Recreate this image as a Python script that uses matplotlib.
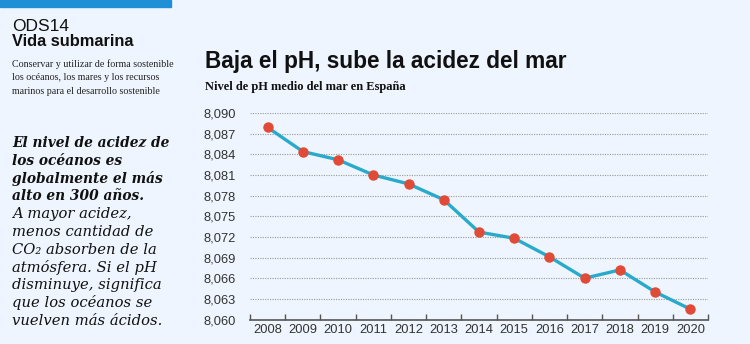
import matplotlib.pyplot as plt
import numpy as np

# data
years = ['2008', '2009', '2010', '2011', '2012', '2013', '2014',
         '2015', '2016', '2017', '2018', '2019', '2020']
ph = [8.0879, 8.0844, 8.0832, 8.0810, 8.0797, 8.0774, 8.0727,
      8.0718, 8.0691, 8.0660, 8.0672, 8.0640, 8.0615]
yticks = [8.060, 8.063, 8.066, 8.069, 8.072, 8.075, 8.078,
          8.081, 8.084, 8.087, 8.090]

BG = '#eef5fe'
SANS = ['Liberation Sans', 'DejaVu Sans']
SERIF = ['Liberation Serif', 'DejaVu Serif']
SLAB = ['DejaVu Serif']

W, H = 750, 344
fig = plt.figure(figsize=(W / 100, H / 100), dpi=100, facecolor=BG)


def px(x, y):
    # pixel coords (from top-left) -> figure fraction
    return x / W, 1 - y / H


# blue strip top-left
fig.patches.append(plt.Rectangle(px(0, 7), 171 / W, 7 / H,
                                 transform=fig.transFigure,
                                 color='#1f8fd6', zorder=0))

fig.text(*px(12, 31), 'ODS14', family=SANS, fontsize=12.5,
         color='#111111', va='baseline')
fig.text(*px(12, 46), 'Vida submarina', family=SANS, fontsize=11.8,
         weight='heavy', color='#111111', va='baseline')
intro = ['Conservar y utilizar de forma sostenible',
         'los océanos, los mares y los recursos',
         'marinos para el desarrollo sostenible']
for i, line in enumerate(intro):
    fig.text(*px(12, 67 + i * 13.5), line, family=SERIF, fontsize=7.2,
             color='#222222', va='baseline')

bold_lines = ['El nivel de acidez de', 'los océanos es',
              'globalmente el más', 'alto en 300 años.']
reg_lines = ['A mayor acidez,', 'menos cantidad de',
             'CO₂ absorben de la', 'atmósfera. Si el pH',
             'disminuye, significa', 'que los océanos se',
             'vuelven más ácidos.']
for i, line in enumerate(bold_lines + reg_lines):
    bold = i < len(bold_lines)
    fig.text(*px(12, 147 + i * 17.8), line, family=SLAB,
             fontsize=9.9 if bold else 10.6, style='italic',
             weight='bold' if bold else 'normal',
             color='#111111', va='baseline')

fig.text(*px(205, 68), 'Baja el pH, sube la acidez del mar', family=SANS,
         fontsize=16.3, weight='bold', color='#111111', va='baseline')
fig.text(*px(205, 90), 'Nivel de pH medio del mar en España', family=SERIF,
         fontsize=9, weight='bold', color='#111111', va='baseline')

# chart area
ax = fig.add_axes([250 / W, 1 - 319.5 / H, 458 / W, (319.5 - 113) / H])
ax.set_facecolor(BG)
x = np.arange(len(years))
ax.plot(x, ph, color='#29aacb', lw=2.4, zorder=3,
        marker='o', ms=6.5, mfc='#e04a36', mec='#e04a36')

ax.set_xlim(-0.5, len(years) - 0.5)
ax.set_ylim(8.060, 8.090)
ax.set_yticks(yticks)
ax.set_yticklabels([f'{v:.3f}'.replace('.', ',') for v in yticks],
                   family=SANS, fontsize=9.3, color='#333333')
ax.set_xticks(x)
ax.set_xticklabels(years, family=SANS, fontsize=9.3, color='#333333')
ax.set_xticks(np.arange(-0.5, len(years), 1), minor=True)
ax.tick_params(axis='y', length=0, pad=10)
ax.tick_params(axis='x', which='major', length=0, pad=3)
ax.tick_params(axis='x', which='minor', direction='in', length=4,
               color='#555555', width=1)
ax.grid(axis='y', linestyle=(0, (1, 1.2)), color='#999999', lw=0.8)
for s in ['top', 'right', 'left']:
    ax.spines[s].set_visible(False)
ax.spines['bottom'].set_color('#555555')
ax.spines['bottom'].set_linewidth(1.2)

fig.savefig('out.png', dpi=100, facecolor=BG)
